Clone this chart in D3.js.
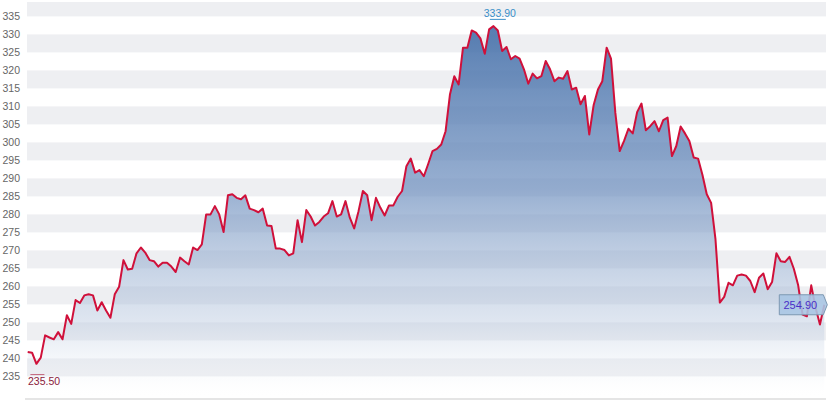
<!DOCTYPE html>
<html><head><meta charset="utf-8">
<script src="https://cdn.jsdelivr.net/npm/d3@7"></script>
<style>
html,body{margin:0;padding:0;background:#fff;}
svg{display:block;font-family:"Liberation Sans",Arial,sans-serif;}
</style></head>
<body><svg id="c" width="830" height="408"></svg>
<script>
const closes = [241.8,241.6,238.5,240.2,246.4,245.8,245.3,247.3,245.3,252,249.6,256.2,255.4,257.5,257.8,257.5,253.3,255.6,253.3,251.3,257.8,259.9,267.3,264.7,264.9,269.2,270.8,269.4,267.3,267,265.5,266.6,
266.6,265.5,264,268,267,266.1,270.8,270.1,271.7,280,280,282.3,280,275.1,285.3,285.6,284.6,284.2,285.3,281.6,281.2,280.6,281.6,276.9,276.8,270.5,270.5,270.1,268.6,269.2,
278.4,272.3,281.2,279.4,276.9,277.9,279.4,280.3,283.7,279.4,280,283.7,279.1,276.1,280.9,286.5,285.3,278.4,284.6,281.9,279.7,282.5,282.5,284.9,286.5,293.4,295.5,291.6,292.3,290.6,
294,297.6,298.2,299.4,303.1,313.3,318.4,316.1,326.3,326.3,331.1,330.5,328.9,324.6,331.4,332.3,331.1,325.4,326.5,323.1,324,323.3,320.3,316.3,319.1,317.8,318.4,322.6,320.3,317,318,
317.7,319.8,314.7,315.2,310.6,312.9,302.2,310.3,314.7,317,326.3,323.3,308.2,297.6,300.4,303.8,302.5,308.4,310.8,303.4,304.5,305.9,303.1,306.2,306.9,296.2,299,304.4,302.5,300.4,295.8,295.5,
291,285.6,283.2,273.1,255.5,257.1,261,260.3,263,263.3,263,261.5,258.4,262.4,263.6,259.2,261.2,269.2,267,266.8,268.2,264.9,260.3,252.2,251.7,260.3,254.1,249.4,254.9];
const yTicks = [235,240,245,250,255,260,265,270,275,280,285,290,295,300,305,310,315,320,325,330,335];
const highValue = 333.90, highIndex = 108;
const lowValue = 235.50, lowIndex = 2;
const lastValue = 254.90;

const svg = d3.select("#c");
const L = 27, R = 826, T = 2, B = 398;
const x = d3.scaleLinear().domain([0, closes.length - 1]).range([27.7, 824.3]);
const y = d3.scaleLinear().domain([229, 339]).range([B, T]);

// alternating bands
const bandStarts = d3.range(235, 339, 10);
svg.append("g").selectAll("rect").data(bandStarts).join("rect")
  .attr("x", L).attr("width", R - L)
  .attr("y", d => y(Math.min(d + 5, 339)))
  .attr("height", d => y(d) - y(Math.min(d + 5, 339)))
  .attr("fill", "#eeeff2");

// y axis
const yAxis = d3.axisLeft(y).tickValues(yTicks).tickSize(0).tickPadding(0);
const ga = svg.append("g").attr("transform", "translate(20,0)").call(yAxis);
ga.select(".domain").remove();
ga.selectAll("text").attr("fill", "#666").attr("font-size", "10.5px")
  .attr("font-family", "'Liberation Sans',Arial,sans-serif");

// gradient
const defs = svg.append("defs");
const gr = defs.append("linearGradient").attr("id", "g1")
  .attr("gradientUnits", "userSpaceOnUse").attr("x1", 0).attr("x2", 0)
  .attr("y1", y(335)).attr("y2", B);
gr.append("stop").attr("offset", 0).attr("stop-color", "#3f6ba6").attr("stop-opacity", 0.9);
gr.append("stop").attr("offset", 0.45).attr("stop-color", "#6f90bf").attr("stop-opacity", 0.72);
gr.append("stop").attr("offset", 0.8).attr("stop-color", "#b7c7de").attr("stop-opacity", 0.45);
gr.append("stop").attr("offset", 0.95).attr("stop-color", "#e6ecf4").attr("stop-opacity", 0.15);
gr.append("stop").attr("offset", 1).attr("stop-color", "#ffffff").attr("stop-opacity", 0);

const area = d3.area().x((d, i) => x(i)).y0(B).y1(d => y(d));
svg.append("path").datum(closes).attr("d", area).attr("fill", "url(#g1)");

// bottom line
svg.append("line").attr("x1", 25).attr("x2", R).attr("y1", B + 1).attr("y2", B + 1)
  .attr("stroke", "#dcdcdc").attr("stroke-width", 1.5);

const line = d3.line().x((d, i) => x(i)).y(d => y(d));
svg.append("path").datum(closes).attr("d", line).attr("fill", "none")
  .attr("stroke", "#d0103a").attr("stroke-width", 2).attr("stroke-linejoin", "round");

// high marker
const hx = x(highIndex), hy = y(highValue);
svg.append("line").attr("x1", hx - 8).attr("x2", hx + 8).attr("y1", hy - 1).attr("y2", hy - 1)
  .attr("stroke", "#3b8fc9").attr("stroke-width", 1);
svg.append("text").attr("x", hx + 2).attr("y", hy - 3).attr("text-anchor", "middle")
  .attr("font-size", "10.5px").attr("fill", "#3b8fc9").text(highValue.toFixed(2));

// low marker
const lx = x(lowIndex), ly = y(lowValue);
svg.append("line").attr("x1", lx - 6).attr("x2", lx + 8).attr("y1", ly).attr("y2", ly)
  .attr("stroke", "#c06078").attr("stroke-width", 1);
svg.append("text").attr("x", 28).attr("y", ly + 10.5).attr("text-anchor", "start")
  .attr("font-size", "10.5px").attr("fill", "#8b1a3a").text(lowValue.toFixed(2));

// last value tag
const ex = x(closes.length - 1), ey = y(lastValue);
const tag = svg.append("g");
tag.append("path")
  .attr("d", `M${ex - 45},${ey - 10}H${ex - 1}L${ex + 3},${ey}L${ex - 1},${ey + 10}H${ex - 45}Z`)
  .attr("fill", "#a9c5e3").attr("fill-opacity", 0.9).attr("stroke", "#7d98b2").attr("stroke-width", 1);
tag.append("text").attr("x", ex - 24).attr("y", ey + 4).attr("text-anchor", "middle")
  .attr("font-size", "11px").attr("fill", "#4a2fc8").text(lastValue.toFixed(2));
</script></body></html>
